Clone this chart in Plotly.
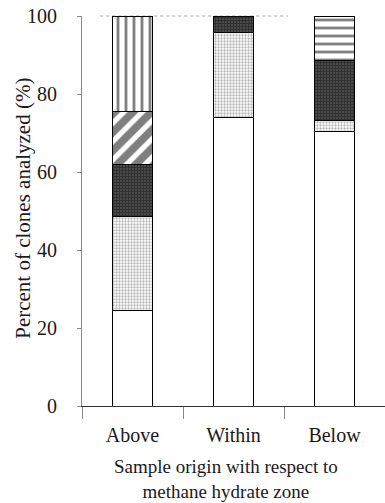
import plotly.graph_objects as go

categories = ["Above", "Within", "Below"]
group_a = [24.4, 74.0, 70.5]   # open (white)
group_b = [24.3, 21.8, 2.8]    # light stipple
group_c = [13.3, 4.2, 15.4]    # dark stipple
group_d = [13.5, 0.0, 0.0]     # diagonal hatch
group_e = [24.5, 0.0, 0.0]     # vertical lines
group_f = [0.0, 0.0, 11.3]     # horizontal lines
y_ticks = [0, 20, 40, 60, 80, 100]

styles = [
    (group_a, dict(color="white", pattern=dict(shape=""))),
    (group_b, dict(color="white", pattern=dict(shape=".", fgcolor="#6a6a6a", bgcolor="white", size=3, solidity=0.45))),
    (group_c, dict(color="#3a3a3a", pattern=dict(shape="+", fgcolor="#111111", bgcolor="#4a4a4a", size=3, solidity=0.5))),
    (group_d, dict(color="white", pattern=dict(shape="/", fgcolor="black", bgcolor="white", size=13, solidity=0.6))),
    (group_e, dict(color="white", pattern=dict(shape="|", fgcolor="black", bgcolor="white", size=8, solidity=0.35))),
    (group_f, dict(color="white", pattern=dict(shape="-", fgcolor="black", bgcolor="white", size=8, solidity=0.35))),
]

fig = go.Figure()
for vals, mk in styles:
    mk = dict(mk)
    mk["line"] = dict(color="black", width=1)
    fig.add_trace(go.Bar(x=categories, y=vals, marker=mk, width=0.4, showlegend=False))

font = "Liberation Serif, Times New Roman, serif"
fig.update_layout(
    barmode="stack",
    width=385, height=503,
    margin=dict(l=82, r=0, t=16, b=97),
    paper_bgcolor="white", plot_bgcolor="white",
    font=dict(family=font, size=20, color="#1a1a1a"),
    xaxis=dict(
        range=[-0.5, 2.5], automargin=False,
        showline=True, linecolor="#333", linewidth=1,
        ticks="outside", tickson="boundaries", ticklen=12, tickcolor="#888",
        showgrid=False,
        ticklabelstandoff=11,
    ),
    yaxis=dict(
        range=[0, 100], automargin=False,
        tickvals=y_ticks,
        showline=True, linecolor="#888", linewidth=1,
        ticks="outside", ticklen=4, tickcolor="#888",
        showgrid=False, zeroline=False,
        ticklabelstandoff=16,
    ),
    annotations=[
        dict(text="Percent of clones analyzed (%)", textangle=-90,
             xref="paper", yref="paper", x=-0.195, y=0.508,
             xanchor="center", yanchor="middle", showarrow=False,
             font=dict(size=21)),
        dict(text="Sample origin with respect to<br>methane hydrate zone",
             xref="paper", yref="paper", x=0.475, y=-0.186,
             xanchor="center", yanchor="middle", showarrow=False,
             font=dict(size=19)),
    ],
    shapes=[dict(type="line", xref="paper", yref="paper", x0=0.06, x1=0.68, y0=1, y1=1,
                 line=dict(color="#aaaaaa", width=1, dash="dot"), layer="below")],
)

fig.write_html("out.html", config={"displayModeBar": False},
               post_script="document.body.style.margin='0';document.body.style.padding='0';")
